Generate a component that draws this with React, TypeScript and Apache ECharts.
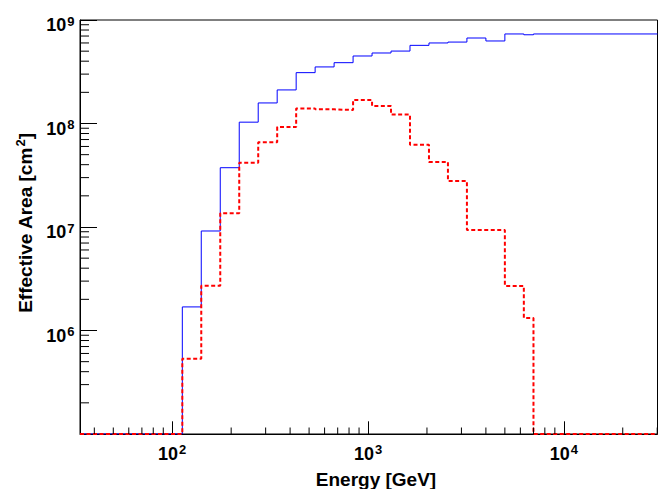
import React, { useEffect, useRef } from 'react';
import * as echarts from 'echarts';

// ---- axis ranges ----
const X_MIN = 33.8;
const X_MAX = 30100;
const Y_MIN = 1e5;
const Y_MAX = 1e9;

// ---- histogram bin edges (GeV) ----
const BIN_EDGES = [
  112.6, 140.7, 175.9, 219.9, 274.9, 343.6, 429.5, 536.9, 671.1, 838.9,
  1048.6, 1310.7, 1638.4, 2048, 2560, 3200, 4000, 5000, 6250, 7000,
];

// ---- effective area per bin (cm^2) ----
const BLUE_AREA = [
  1.69e6, 9.15e6, 3.74e7, 1.03e8, 1.58e8, 2.11e8, 3.1e8, 3.52e8, 3.87e8, 4.49e8,
  4.8e8, 5.01e8, 5.69e8, 6.0e8, 6.12e8, 6.7e8, 6.27e8, 7.33e8, 7.2e8,
];
const BLUE_AREA_ABOVE = 7.33e8; // level beyond the last edge
const RED_AREA = [
  5.34e5, 2.71e6, 1.36e7, 4.18e7, 6.58e7, 9.25e7, 1.4e8, 1.37e8, 1.35e8, 1.69e8,
  1.48e8, 1.22e8, 6.24e7, 4.25e7, 2.78e7, 9.36e6, 9.36e6, 2.69e6, 1.32e6,
];
const RED_AREA_ABOVE = 0;

// ---- tick labels / ticks ----
const X_LABEL_EXPONENTS = [2, 3, 4];
const Y_LABEL_EXPONENTS = [6, 7, 8, 9];
const X_DECADES = [1, 2, 3, 4];
const Y_DECADES = [5, 6, 7, 8];
const MINOR_MULTIPLIERS = [2, 3, 4, 5, 6, 7, 8, 9];

const FONT = '"Liberation Sans", Arial, Helvetica, sans-serif';

function stepPoints(values: number[], above: number): number[][] {
  const lv = (v: number) => (v > 0 ? v : Y_MIN);
  const pts: number[][] = [[X_MIN, Y_MIN], [BIN_EDGES[0], Y_MIN]];
  values.forEach((v, i) => {
    pts.push([BIN_EDGES[i], lv(v)], [BIN_EDGES[i + 1], lv(v)]);
  });
  const last = BIN_EDGES[BIN_EDGES.length - 1];
  pts.push([last, lv(above)], [X_MAX, lv(above)]);
  return pts;
}

function minorTicks(decades: number[], lo: number, hi: number): number[] {
  const out: number[] = [];
  decades.forEach((d) => {
    MINOR_MULTIPLIERS.forEach((m) => {
      const v = m * Math.pow(10, d);
      if (v > lo && v < hi) out.push(v);
    });
  });
  return out;
}

function expLabel(allowed: number[]) {
  return (value: number) => {
    const l = Math.log10(value);
    const e = Math.round(l);
    if (Math.abs(l - e) > 1e-6 || allowed.indexOf(e) < 0) return '';
    return `{b|10}{s|${e}}`;
  };
}

const labelRich = {
  b: { fontSize: 18, fontWeight: 'bold', fontFamily: FONT, color: '#000', lineHeight: 21, verticalAlign: 'middle' },
  s: { fontSize: 13, fontWeight: 'bold', fontFamily: FONT, color: '#000', lineHeight: 10, verticalAlign: 'top', padding: [0, 0, 0, 1] },
};

export default function App() {
  const ref = useRef<HTMLDivElement>(null);
  useEffect(() => {
    if (!ref.current) return;
    const chart = echarts.init(ref.current, undefined, { renderer: 'svg' });
    const xMinor = minorTicks(X_DECADES, X_MIN, X_MAX);
    const yMinor = minorTicks(Y_DECADES, Y_MIN, Y_MAX);
    chart.setOption({
      animation: false,
      backgroundColor: '#fff',
      grid: { left: 80, top: 20, right: 10.5, bottom: 55, show: true, borderColor: '#000', borderWidth: 1 },
      xAxis: {
        type: 'log',
        logBase: 10,
        min: X_MIN,
        max: X_MAX,
        axisLine: { lineStyle: { color: '#000', width: 1 } },
        axisTick: { inside: true, length: 12.7, lineStyle: { color: '#000', width: 1 } },
        splitLine: { show: false },
        axisLabel: { margin: 9, formatter: expLabel(X_LABEL_EXPONENTS), rich: labelRich },
      },
      yAxis: {
        type: 'log',
        logBase: 10,
        min: Y_MIN,
        max: Y_MAX,
        axisLine: { lineStyle: { color: '#000', width: 1 } },
        axisTick: { inside: true, length: 17, lineStyle: { color: '#000', width: 1 } },
        splitLine: { show: false },
        axisLabel: { margin: 5.5, padding: [10, 0, 0, 0], formatter: expLabel(Y_LABEL_EXPONENTS), rich: labelRich },
      },
      graphic: [
        {
          type: 'text',
          x: 376,
          y: 479.6,
          style: { text: 'Energy [GeV]', fontSize: 19, fontWeight: 'bold', fontFamily: FONT, fill: '#000', align: 'center', verticalAlign: 'middle' },
        },
        {
          type: 'text',
          x: 25.1,
          y: 223,
          rotation: Math.PI / 2,
          style: {
            text: '{t|Effective Area [cm}{s|2}{t|]}',
            align: 'center',
            verticalAlign: 'middle',
            rich: {
              t: { fontSize: 19, fontWeight: 'bold', fontFamily: FONT, fill: '#000', lineHeight: 22, verticalAlign: 'middle' },
              s: { fontSize: 13, fontWeight: 'bold', fontFamily: FONT, fill: '#000', lineHeight: 10, verticalAlign: 'top', padding: [0, 0, 0, 1] },
            },
          },
        },
      ],
      series: [
        {
          type: 'line',
          name: 'blue',
          data: stepPoints(BLUE_AREA, BLUE_AREA_ABOVE),
          symbol: 'none',
          silent: true,
          z: 3,
          lineStyle: { color: '#0000ff', width: 1 },
        },
        {
          type: 'line',
          name: 'red',
          data: stepPoints(RED_AREA, RED_AREA_ABOVE),
          symbol: 'none',
          silent: true,
          z: 4,
          lineStyle: { color: '#ff0000', width: 2, type: [4, 2.5] },
        },
        {
          type: 'custom',
          silent: true,
          z: 5,
          clip: false,
          data: xMinor.map((v) => [v, Y_MIN]),
          renderItem: (_p: any, api: any) => {
            const p = api.coord([api.value(0), api.value(1)]);
            return { type: 'line', shape: { x1: p[0], y1: p[1], x2: p[0], y2: p[1] - 6.5 }, style: { stroke: '#000', lineWidth: 1 } };
          },
        },
        {
          type: 'custom',
          silent: true,
          z: 5,
          clip: false,
          data: yMinor.map((v) => [X_MIN, v]),
          renderItem: (_p: any, api: any) => {
            const p = api.coord([api.value(0), api.value(1)]);
            return { type: 'line', shape: { x1: p[0], y1: p[1], x2: p[0] + 9, y2: p[1] }, style: { stroke: '#000', lineWidth: 1 } };
          },
        },
      ],
    });
    return () => chart.dispose();
  }, []);
  return <div ref={ref} style={{ position: 'fixed', left: 0, top: 0, width: 668, height: 489 }} />;
}
